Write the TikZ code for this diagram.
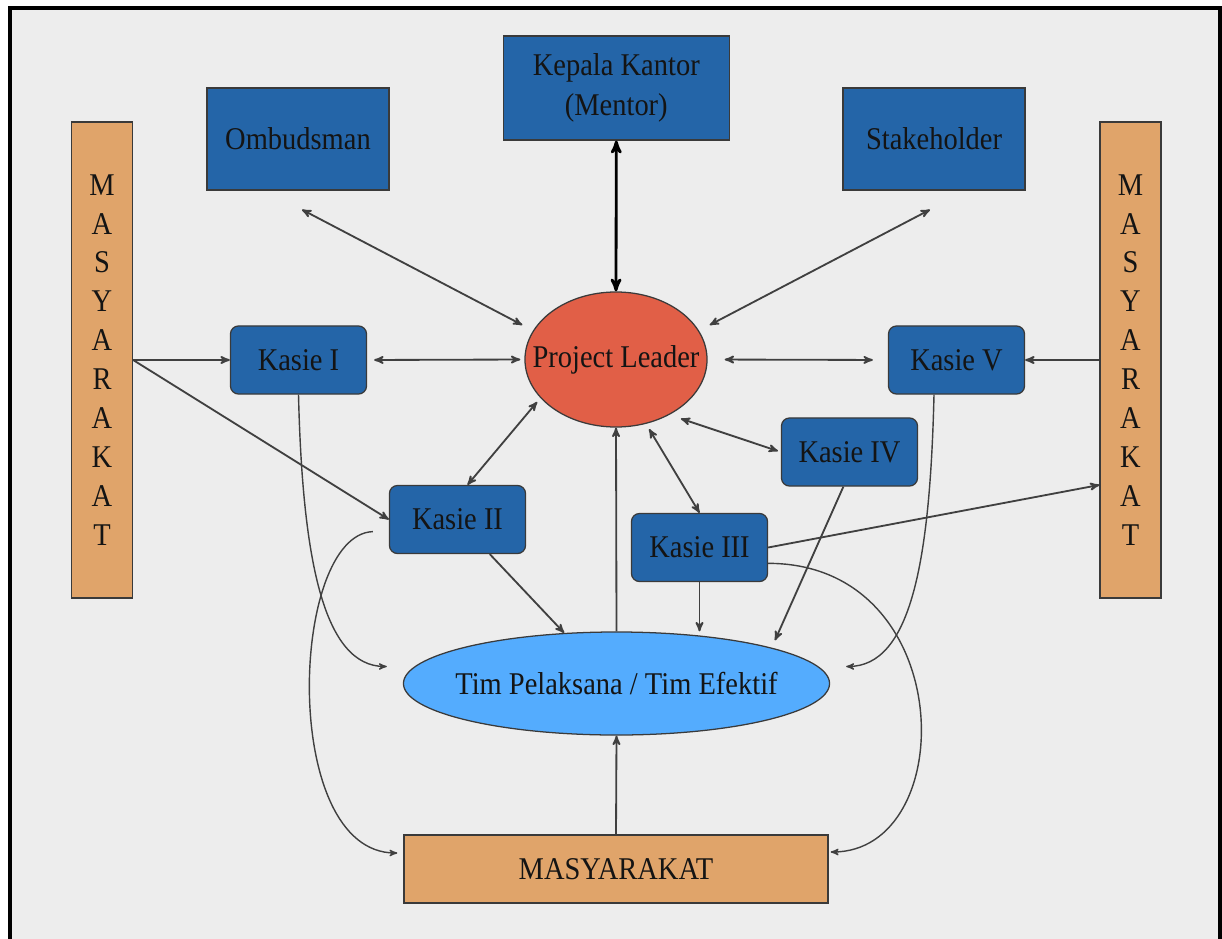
\documentclass[tikz,border=0pt]{standalone}
\usepackage{fontspec}
\setmainfont{Liberation Serif}[FakeStretch=0.9]
\usetikzlibrary{shapes.geometric}
\usetikzlibrary{arrows}

\definecolor{bgray}{HTML}{EDEDED}
\definecolor{kasieblue}{HTML}{2465A8}
\definecolor{masyorange}{HTML}{E0A46A}
\definecolor{leaderred}{HTML}{E15F47}
\definecolor{timblue}{HTML}{54ACFE}
\definecolor{edgegray}{HTML}{3A3A3A}
\definecolor{linegray}{HTML}{404040}

\begin{document}
\begin{tikzpicture}[x=0.025cm,y=-0.025cm,
every node/.style={font=\fontsize{22.5}{28.2}\selectfont,text=black!92},
box/.style={draw=edgegray,line width=0.9pt,fill=kasieblue,minimum width=4.55cm,minimum height=2.55cm,inner sep=0pt,align=center},
kasie/.style={box,rounded corners=0.2cm,minimum width=3.4cm,minimum height=1.7cm},
bar/.style={draw=edgegray,line width=0.9pt,fill=masyorange,minimum width=1.525cm,minimum height=11.9cm,inner sep=0pt,align=center,font=\fontsize{22.5}{27.7}\selectfont},
oval/.style={draw=edgegray,line width=0.9pt,ellipse,inner sep=0pt},
conn/.style={draw=linegray,line width=1.3pt}]
\useasboundingbox (0,0) rectangle (1222,939);
\fill[bgray] (10,8) rectangle (1220,945);
\draw[line width=2.5pt] (10,945) -- (10,8) -- (1220,8) -- (1220,945);
\draw
(298,139) node[box](omb){Ombudsman}
(616.3,88) node[box,minimum width=5.65cm,minimum height=2.6cm](kep){Kepala Kantor\\(Mentor)}
(934,139) node[box](stake){Stakeholder}
(102,360) node[bar](lbar){M\\A\\S\\Y\\A\\R\\A\\K\\A\\T}
(1130.5,360) node[bar](rbar){M\\A\\S\\Y\\A\\R\\A\\K\\A\\T}
(616,359.5) node[oval,fill=leaderred,minimum width=4.55cm,minimum height=3.375cm](pl){\makebox[0pt]{Project Leader}}
(298.5,360) node[kasie](k1){Kasie I}
(956.5,360) node[kasie](k5){Kasie V}
(457.5,519.5) node[kasie](k2){Kasie II}
(699.5,547.5) node[kasie](k3){Kasie III}
(849.5,452) node[kasie](k4){Kasie IV}
(616.5,683.5) node[oval,fill=timblue,minimum width=10.65cm,minimum height=2.575cm](tim){\makebox[0pt]{Tim Pelaksana / Tim Efektif}}
(616,869) node[box,fill=masyorange,minimum width=10.6cm,minimum height=1.7cm](masy){MASYARAKAT}
;
\draw[black,line width=2pt,stealth'-stealth'](kep.south)--(pl.north);
\draw[conn,stealth'-stealth']([xshift=0.1cm,yshift=-0.475cm]omb.south)--([xshift=-0.05cm,yshift=0.8625cm]pl.west);
\draw[conn,stealth'-stealth']([xshift=-0.1cm,yshift=-0.475cm]stake.south)--([xshift=0.05cm,yshift=0.8625cm]pl.east);
\draw[conn,stealth'-stealth',shorten <=0.175cm,shorten >=0.1cm](k1.east)--(pl.west);
\draw[conn,stealth'-stealth',shorten <=0.425cm,shorten >=0.375cm](pl.east)--(k5.west);
\draw[conn,stealth'-stealth',shorten <=0.125cm](pl.-153)--([xshift=0.25cm]k2.north);
\draw[conn,stealth'-stealth',shorten <=0.15cm](pl.-65)--(k3.north);
\draw[conn,stealth'-stealth',shorten <=0.3cm,shorten >=0.075cm](pl.-46)--(k4.west);
\foreach \x/\y in {lbar.east/k1.west, lbar.east/k2.west, rbar.west/k5.east, k3.east/rbar.-104,
tim.north/pl.south, masy.north/tim.south, k2.-47/tim.136}{
\draw[conn,-stealth'](\x)--(\y);
}
\draw[conn,-stealth'](k3.south)--(k3.south |- tim.north);
\draw[conn,-stealth',shorten >=0.2cm](k4.-100)--(tim.13);
\draw[conn,line width=1pt,-stealth'](k1.south) .. controls +(4,166) and +(-63,0) .. ([xshift=-0.4cm,yshift=0.425cm]tim.west);
\draw[conn,line width=1pt,-stealth'](k5.-123) .. controls +(-4,166) and +(65,0) .. ([xshift=0.4cm,yshift=0.425cm]tim.east);
\draw[conn,line width=1pt,-stealth']([xshift=-0.4cm]k2.190) .. controls +(-83,3) and +(-118,0) .. ([xshift=-0.15cm,yshift=0.4cm]masy.west);
\draw[conn,line width=1pt,-stealth'](k3.-13) .. controls +(191,0) and +(130,0) .. ([xshift=0.05cm,yshift=0.425cm]masy.east);
\end{tikzpicture}
\end{document}
